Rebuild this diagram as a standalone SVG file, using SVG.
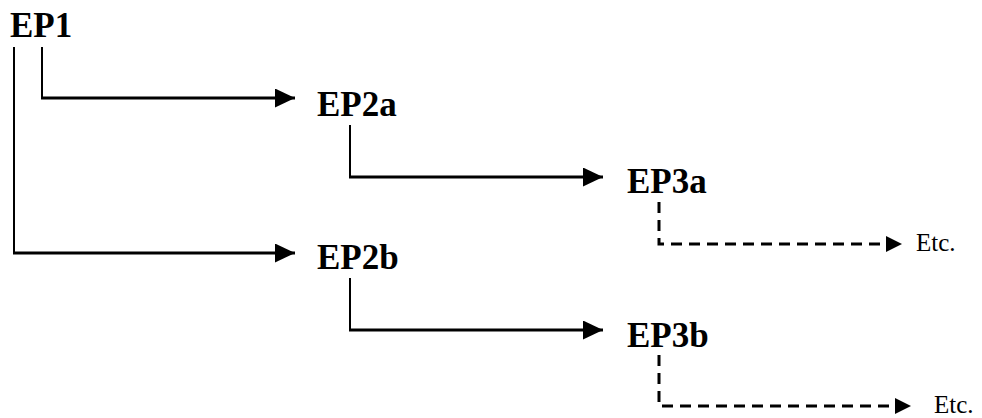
<svg xmlns="http://www.w3.org/2000/svg" width="982" height="418" viewBox="0 0 982 418">
<style>
.lbl{font-family:"Liberation Serif","Times New Roman",serif;font-weight:bold;font-size:35px;fill:#000}
.etc{font-family:"Liberation Serif","Times New Roman",serif;font-size:25px;fill:#000}
.solid{fill:none;stroke:#000;stroke-width:3}
.vs{fill:none;stroke:#000;stroke-width:2}
.dash{fill:none;stroke:#000;stroke-width:3;stroke-dasharray:11 7}
</style>
<defs>
<marker id="big" markerUnits="userSpaceOnUse" markerWidth="22" markerHeight="20" refX="20" refY="9.5" orient="auto">
<path d="M0,0 L20,9.5 L0,19 Z" fill="#000"/>
</marker>
<marker id="small" markerUnits="userSpaceOnUse" markerWidth="18" markerHeight="17" refX="16" refY="8" orient="auto">
<path d="M0,0 L16,8 L0,16 Z" fill="#000"/>
</marker>
</defs>
<g id="connectors">
<path class="vs" d="M42,47 V98"/>
<path class="solid" d="M41,98 H295" marker-end="url(#big)"/>
<path class="vs" d="M14,47 V253"/>
<path class="solid" d="M13,253 H295" marker-end="url(#big)"/>
<path class="vs" d="M350,125 V177"/>
<path class="solid" d="M349,177 H603" marker-end="url(#big)"/>
<path class="vs" d="M350,278 V330"/>
<path class="solid" d="M349,330 H603" marker-end="url(#big)"/>
<path class="dash" d="M659,202 V244 H902" marker-end="url(#small)"/>
<path class="dash" d="M659,355 V406 H911" marker-end="url(#small)"/>
</g>
<g id="ep1"><text class="lbl" x="10" y="37">EP1</text></g>
<g id="ep2a"><text class="lbl" x="317" y="116">EP2a</text></g>
<g id="ep2b"><text class="lbl" x="317" y="269">EP2b</text></g>
<g id="ep3a"><text class="lbl" x="627" y="193">EP3a</text></g>
<g id="ep3b"><text class="lbl" x="627" y="347">EP3b</text></g>
<g id="etc1"><text class="etc" x="916" y="251">Etc.</text></g>
<g id="etc2"><text class="etc" x="934" y="413">Etc.</text></g>
</svg>
